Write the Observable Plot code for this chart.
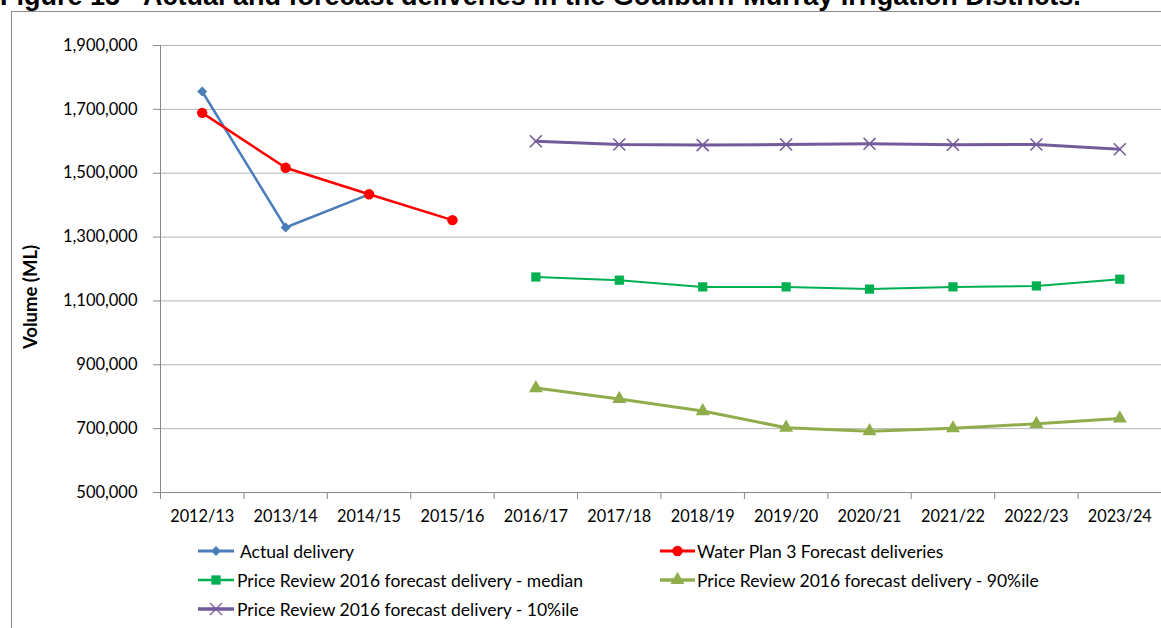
<!DOCTYPE html>
<html><head><meta charset="utf-8">
<script src="https://cdn.jsdelivr.net/npm/d3@7"></script>
<script src="https://cdn.jsdelivr.net/npm/@observablehq/plot@0.6"></script>
<style>
body{margin:0;background:#fff;width:1161px;height:628px;overflow:hidden;position:relative;font-family:Lato,sans-serif;color:#000}
#title{position:absolute;left:0;top:-17px;font:bold 27px "Liberation Sans",Arial,sans-serif;line-height:27px;white-space:nowrap}
#frame{position:absolute;left:11px;top:11px;width:1200px;height:700px;border-left:1.5px solid #8c8c8c;border-top:1.5px solid #8c8c8c}
#chart{position:absolute;left:0;top:0}
#ylabel{position:absolute;left:30px;top:297px;transform:translate(-50%,-50%) rotate(-90deg);font:bold 18.5px Lato,sans-serif;white-space:nowrap}
.item{position:absolute;display:flex;align-items:center;font-size:17.5px;white-space:nowrap;height:22px}
.item svg{display:block}
</style></head><body>
<div id="title">Figure 13 - Actual and forecast deliveries in the Goulburn-Murray Irrigation Districts.</div>
<div id="frame"></div>
<div id="chart"></div>
<div id="ylabel"></div>
<div id="legend"></div>
<script>
// ---- data ----
const categories = ["2012/13","2013/14","2014/15","2015/16","2016/17","2017/18","2018/19","2019/20","2020/21","2021/22","2022/23","2023/24"];
const yTicks = [500000, 700000, 900000, 1100000, 1300000, 1500000, 1700000, 1900000];
const yLabel = "Volume (ML)";

const actualYears = ["2012/13","2013/14","2014/15"];
const actualValues = [1756000, 1330000, 1434000];

const waterPlanYears = ["2012/13","2013/14","2014/15","2015/16"];
const waterPlanValues = [1689000, 1517000, 1434000, 1353000];

const forecastYears = ["2016/17","2017/18","2018/19","2019/20","2020/21","2021/22","2022/23","2023/24"];
const medianValues = [1175000, 1165000, 1144000, 1144000, 1137000, 1144000, 1147000, 1168000];
const pct90Values = [827000, 793000, 755000, 703000, 692000, 701000, 715000, 732000];
const pct10Values = [1600000, 1590000, 1588000, 1590000, 1592000, 1589000, 1590000, 1575000];

const seriesNames = [
  "Actual delivery",
  "Water Plan 3 Forecast deliveries",
  "Price Review 2016 forecast delivery - median",
  "Price Review 2016 forecast delivery - 90%ile",
  "Price Review 2016 forecast delivery - 10%ile"
];

// ---- styles ----
const squareDiamond = {draw(ctx, size) {
  const r = Math.sqrt(size / 2);
  ctx.moveTo(0, -r); ctx.lineTo(r, 0); ctx.lineTo(0, r); ctx.lineTo(-r, 0); ctx.closePath();
}};
const styles = [
  {color:"#4A7EBB", symbol:squareDiamond, r:4, width:2.5, fill:true},
  {color:"#FF0000", symbol:d3.symbolCircle, r:5.2, width:2.5, fill:true},
  {color:"#00B050", symbol:d3.symbolSquare, r:5.2, width:2, fill:true},
  {color:"#8FAE4B", symbol:d3.symbolTriangle, r:5.2, width:3, fill:true},
  {color:"#735A9B", symbol:d3.symbolTimes, r:5.5, width:3, fill:false}
];

const series = [
  [actualYears, actualValues],
  [waterPlanYears, waterPlanValues],
  [forecastYears, medianValues],
  [forecastYears, pct90Values],
  [forecastYears, pct10Values]
].map(([yrs, vals], k) => yrs.map((c, i) => ({i: categories.indexOf(c), v: vals[i], k})));

const boundaries = d3.range(categories.length + 1).map(i => i - 0.5);
const H = 530;
const marks = [
  Plot.gridY(yTicks, {stroke:"#b4b4b4", strokeOpacity:1}),
  Plot.axisY({ticks: yTicks, tickFormat: d3.format(","), tickSize: 7, tickPadding: 16, stroke:"#888", fontSize: 16.5, label: null}),
  Plot.axisX({ticks: boundaries, tickSize: 7, tickFormat: () => "", stroke:"#888", label: null}),
  Plot.axisX({ticks: d3.range(categories.length), tickSize: 0, tickPadding: 18, tickFormat: i => categories[i], fontSize: 16.3, label: null}),
  Plot.ruleX([-0.5], {stroke:"#888"}),
  Plot.ruleY([yTicks[0]], {stroke:"#888"})
];
series.forEach((data, k) => {
  const s = styles[k];
  marks.push(Plot.line(data, {x:"i", y:"v", stroke:s.color, strokeWidth:s.width}));
  marks.push(Plot.dot(data, {x:"i", y:"v", symbol:s.symbol, r:s.r,
    fill: s.fill ? s.color : "none", stroke: s.fill ? "none" : s.color, strokeWidth: s.fill ? 0 : 1.5}));
});

const chart = Plot.plot({
  width: 1161, height: H,
  marginLeft: 160, marginRight: 0, marginTop: 45, marginBottom: H - 492,
  style: {fontFamily: "Lato, sans-serif", color: "#000", background: "transparent", overflow: "visible"},
  x: {type: "linear", domain: [-0.5, categories.length - 0.5], axis: null},
  y: {domain: [yTicks[0], yTicks[yTicks.length - 1]], axis: null},
  marks
});
document.getElementById("chart").appendChild(chart);
document.getElementById("ylabel").textContent = yLabel;

// ---- legend ----
const legendPos = [
  {left:198, top:551, w:36, gap:6}, {left:660, top:551, w:35, gap:2},
  {left:198, top:580, w:36, gap:3}, {left:660, top:580, w:35, gap:2},
  {left:198, top:609, w:36, gap:3}
];
const legend = d3.select("#legend");
seriesNames.forEach((name, k) => {
  const s = styles[k], p = legendPos[k];
  const item = legend.append("div").attr("class","item").style("left", p.left + "px").style("top", (p.top - 11) + "px");
  const svg = item.append("svg").attr("width", p.w).attr("height", 16).style("margin-right", p.gap + "px");
  svg.append("line").attr("x1",0).attr("x2",p.w).attr("y1",8).attr("y2",8).attr("stroke",s.color).attr("stroke-width",s.width + 0.5);
  svg.append("path").attr("transform",`translate(${p.w/2},8)`)
    .attr("d", d3.symbol(s.symbol, Math.PI * s.r * s.r)())
    .attr("fill", s.fill ? s.color : "none").attr("stroke", s.fill ? "none" : s.color).attr("stroke-width", 1.2);
  item.append("span").text(name);
});
</script>
</body></html>
